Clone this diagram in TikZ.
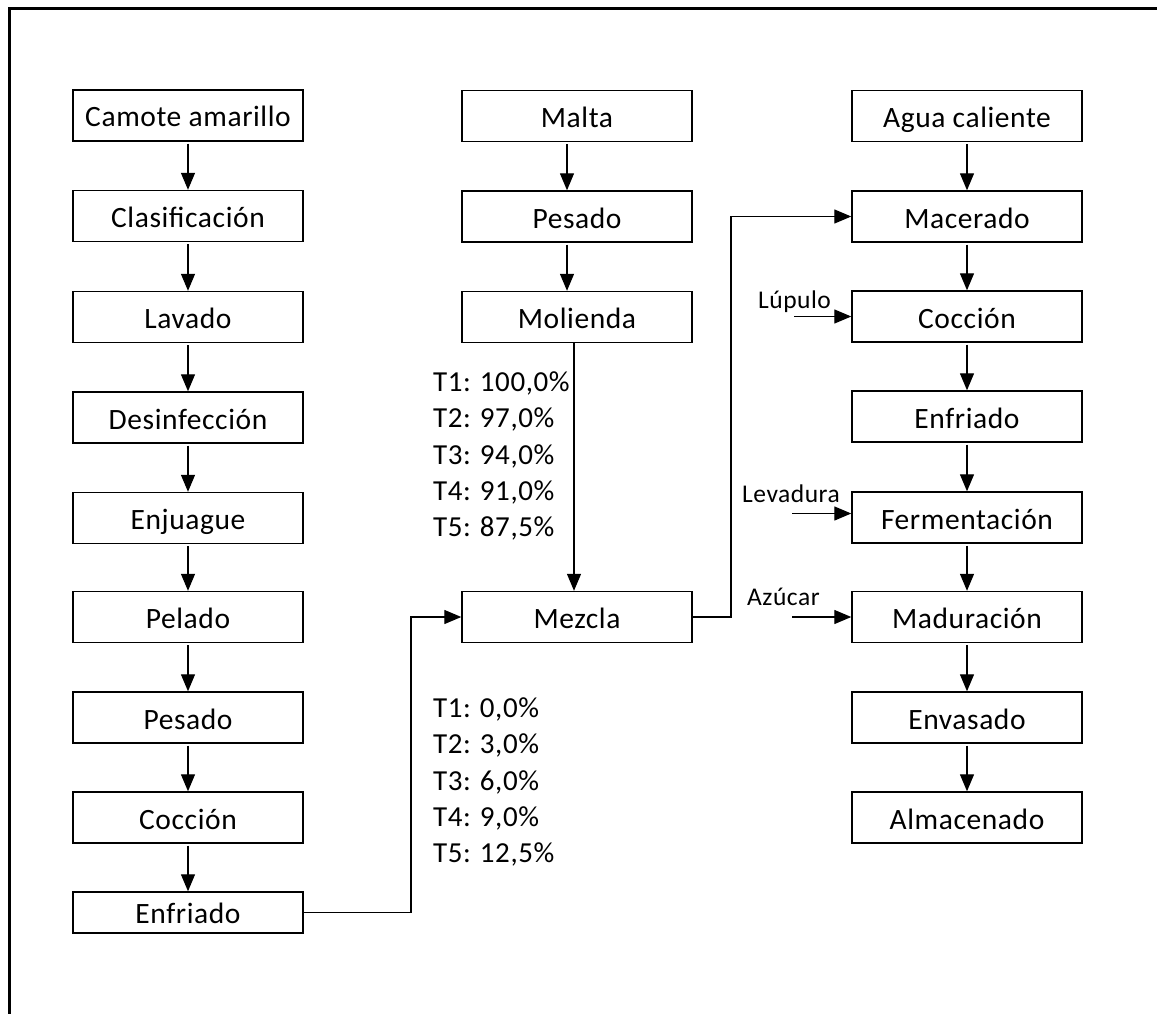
\documentclass[tikz,border=0pt]{standalone}
\usepackage{fontspec}
\setmainfont[LetterSpace=2]{Carlito}
\usetikzlibrary{arrows.meta}
\tikzset{
  stepbox/.style={draw=black, line width=1.4pt, minimum width=230pt, minimum height=51pt,
    inner sep=0pt, text height=23pt, text depth=0pt, font=\fontsize{29.5}{30}\selectfont},
  flow/.style={line width=1.3pt, -{Triangle[length=17pt,width=14pt]}},
  sidelbl/.style={inner sep=0pt, anchor=base west, font=\fontsize{25.5}{26}\selectfont},
  pct/.style={inner sep=0pt, anchor=base west, font=\fontsize{29}{30}\selectfont}
}
\begin{document}
\begin{tikzpicture}[x=1pt, y=-1pt]
\useasboundingbox (0,0) rectangle (1157,1014);
\draw[line width=2.6pt] (9.5,1020) -- (9.5,8.5) -- (1165,8.5);

% left column
\node[stepbox] (l1) at (188,115.5) {Camote amarillo};
\node[stepbox] (l2) at (188,216) {Clasificación};
\node[stepbox] (l3) at (188,317) {Lavado};
\node[stepbox] (l4) at (188,417.5) {Desinfección};
\node[stepbox] (l5) at (188,518) {Enjuague};
\node[stepbox] (l6) at (188,617) {Pelado};
\node[stepbox] (l7) at (188,717.5) {Pesado};
\node[stepbox] (l8) at (188,817.5) {Cocción};
\node[stepbox, minimum height=41pt, text height=21pt] (l9) at (188,912.5) {Enfriado};

% middle column
\node[stepbox] (m1) at (577,116) {Malta};
\node[stepbox] (m2) at (577,216.5) {Pesado};
\node[stepbox] (m3) at (577,317) {Molienda};
\node[stepbox] (m4) at (577,617) {Mezcla};

% right column
\node[stepbox] (r1) at (967,116) {Agua caliente};
\node[stepbox] (r2) at (967,216.5) {Macerado};
\node[stepbox] (r3) at (967,316.5) {Cocción};
\node[stepbox] (r4) at (967,416.5) {Enfriado};
\node[stepbox] (r5) at (967,517.5) {Fermentación};
\node[stepbox] (r6) at (967,617) {Maduración};
\node[stepbox] (r7) at (967,717.5) {Envasado};
\node[stepbox] (r8) at (967,817.5) {Almacenado};

% vertical arrows
\foreach \a/\b in {l1/l2,l2/l3,l3/l4,l4/l5,l5/l6,l6/l7,l7/l8,l8/l9,
                   r1/r2,r2/r3,r3/r4,r4/r5,r5/r6,r6/r7,r7/r8}
  \draw[flow] ([yshift=-2pt]\a.south) -- (\b.north);
\foreach \a/\b in {m1/m2,m2/m3}
  \draw[flow] ([xshift=-10pt,yshift=-2pt]\a.south) -- ([xshift=-10pt]\b.north);
\draw[flow] ([xshift=-3pt]m3.south) -- ([xshift=-3pt]m4.north);

% percentages
\node[pct] (p1) at (433,391) {T1:\hspace{9pt}100,0\%};
\node[pct] (p2) at (433,427.5) {T2:\hspace{9pt}97,0\%};
\node[pct] (p3) at (433,464) {T3:\hspace{9pt}94,0\%};
\node[pct] (p4) at (433,500) {T4:\hspace{9pt}91,0\%};
\node[pct] (p5) at (433,536) {T5:\hspace{9pt}87,5\%};
\node[pct] (q1) at (433,717) {T1:\hspace{9pt}0,0\%};
\node[pct] (q2) at (433,753) {T2:\hspace{9pt}3,0\%};
\node[pct] (q3) at (433,790) {T3:\hspace{9pt}6,0\%};
\node[pct] (q4) at (433,826) {T4:\hspace{9pt}9,0\%};
\node[pct] (q5) at (433,862) {T5:\hspace{9pt}12,5\%};

% junction connectors
\coordinate (jl) at (411,0);
\coordinate (jr) at (731,0);
\draw[flow] (l9.east) -- (l9.east -| jl) -- (jl |- m4.west) -- (m4.west);
\draw[flow] (m4.east) -- (m4.east -| jr) -- (jr |- r2.west) -- (r2.west);

% side inputs
\node[sidelbl] (lup) at (758,308) {Lúpulo};
\node[sidelbl] (lev) at (742,502) {Levadura};
\node[sidelbl] (azu) at (747,605) {Azúcar};
\coordinate (s1) at (794,0);
\coordinate (s2) at (792,0);
\draw[flow] (s1 |- r3.west) -- (r3.west);
\draw[flow] ([yshift=4pt]s2 |- r5.west) -- ([yshift=4pt]r5.west);
\draw[flow] (s2 |- r6.west) -- (r6.west);
\end{tikzpicture}
\end{document}
